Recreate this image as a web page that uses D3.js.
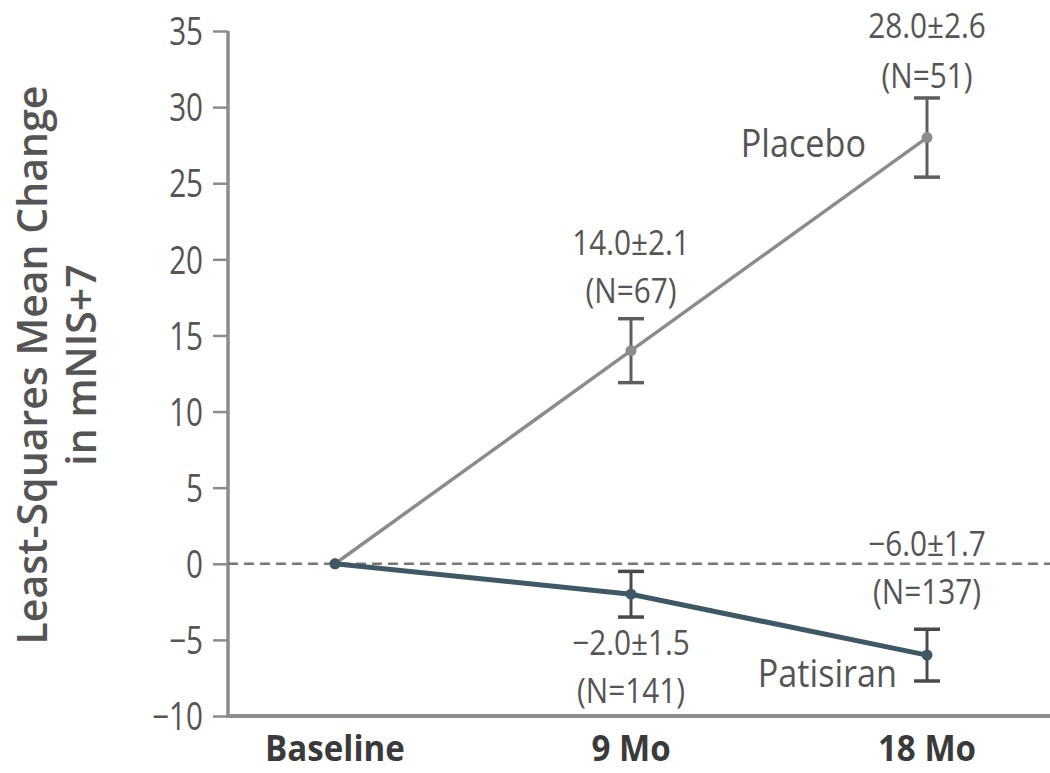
<!DOCTYPE html>
<html>
<head>
<meta charset="utf-8">
<script src="https://cdn.jsdelivr.net/npm/d3@7"></script>
<style>
  html, body { margin: 0; padding: 0; background: #fff; }
  svg { display: block; }
  text { font-family: "Open Sans", "DejaVu Sans", sans-serif; }
</style>
</head>
<body>
<svg id="chart" width="1050" height="773"></svg>
<script>
// ---------- data ----------
const categories = ["Baseline", "9 Mo", "18 Mo"];
const placeboMean = [0, 14.0, 28.0];
const placeboErr = [null, 2.1, 2.6];
const placeboN = [null, 67, 51];
const patisiranMean = [0, -2.0, -6.0];
const patisiranErr = [null, 1.5, 1.7];
const patisiranN = [null, 141, 137];
const yTicks = [-10, -5, 0, 5, 10, 15, 20, 25, 30, 35];
const yTitleLines = ["Least-Squares Mean Change", "in mNIS+7"];
const seriesNames = ["Placebo", "Patisiran"];

// ---------- layout / style ----------
const W = 1050, H = 773;
const axisX = 228;
const svg = d3.select("#chart");

const y = d3.scaleLinear().domain([-10, 35]).range([716, 31]);
const x = d3.scalePoint().domain(categories).range([335, 927]);

const gray = "#8c8c8c";
const dark = "#3e5866";
const textGray = "#555";
const numScale = 0.78, wordScale = 0.9;
const annSize = 35, annScale = 0.85;

function addText(g, px, py, txt, size, sx, anchor, fill, weight) {
  return g.append("text")
    .attr("transform", `translate(${px},${py}) scale(${sx},1)`)
    .attr("text-anchor", anchor).attr("fill", fill)
    .style("font-size", size + "px").style("font-weight", weight || 400)
    .text(txt);
}

// y axis
const tickLen = 15, tickPad = 10;
const yAxis = d3.axisLeft(y).tickValues(yTicks).tickSize(tickLen).tickPadding(tickPad)
  .tickFormat(d => d < 0 ? "\u2212" + Math.abs(d) : d);
const gy = svg.append("g").attr("transform", `translate(${axisX},0)`).call(yAxis);
gy.select(".domain").attr("stroke", gray).attr("stroke-width", 3.5)
  .attr("d", `M0,${y(35)}V${y(-10)}`);
gy.selectAll(".tick line").attr("stroke", gray).attr("stroke-width", 2.5);
gy.selectAll(".tick text").attr("fill", textGray).style("font-size", "38px")
  .attr("x", -(tickLen + tickPad) / numScale).attr("dy", "0.36em")
  .attr("transform", `scale(${numScale},1)`);

// x axis line
svg.append("line").attr("x1", axisX - 2).attr("x2", W).attr("y1", y(-10)).attr("y2", y(-10))
  .attr("stroke", gray).attr("stroke-width", 4);

// x labels
const gx = svg.append("g");
categories.forEach(c => addText(gx, x(c), 761, c, 36, 0.92, "middle", "#3a3a3a", 700));

// zero dashed line
svg.append("line").attr("x1", axisX).attr("x2", W).attr("y1", y(0)).attr("y2", y(0))
  .attr("stroke", "#777").attr("stroke-width", 2.5).attr("stroke-dasharray", "10,6");

// y title
const yt = svg.append("text").attr("transform", `translate(0,365) rotate(-90)`)
  .attr("text-anchor", "middle").attr("fill", textGray)
  .style("font-size", "41px").style("font-weight", "600");
yt.append("tspan").attr("x", 0).attr("y", 47).text(yTitleLines[0]);
yt.append("tspan").attr("x", 0).attr("y", 96).text(yTitleLines[1]);

// series
const series = [
  { name: seriesNames[0], mean: placeboMean, err: placeboErr, n: placeboN, color: gray, barColor: "#5e5e5e", lw: 3.5 },
  { name: seriesNames[1], mean: patisiranMean, err: patisiranErr, n: patisiranN, color: dark, barColor: "#4a4a4a", lw: 5 }
];

const line = d3.line().x((d, i) => x(categories[i])).y(d => y(d));

series.forEach(s => {
  const g = svg.append("g");
  g.append("path").datum(s.mean).attr("d", line).attr("fill", "none")
    .attr("stroke", s.color).attr("stroke-width", s.lw);
  const eb = s.mean.map((m, i) => ({ m, e: s.err[i], c: categories[i] })).filter(d => d.e != null);
  eb.forEach(d => {
    const cx = x(d.c);
    g.append("line").attr("x1", cx).attr("x2", cx).attr("y1", y(d.m + d.e)).attr("y2", y(d.m - d.e))
      .attr("stroke", s.barColor).attr("stroke-width", 3);
    [d.m + d.e, d.m - d.e].forEach(v => {
      g.append("line").attr("x1", cx - 13).attr("x2", cx + 13).attr("y1", y(v)).attr("y2", y(v))
        .attr("stroke", s.barColor).attr("stroke-width", 3.5);
    });
  });
  g.selectAll("circle").data(s.mean).join("circle")
    .attr("cx", (d, i) => x(categories[i])).attr("cy", d => y(d)).attr("r", 5.5)
    .attr("fill", s.color);
});

// value annotations (layout offsets: baseline of line nearer the bar, in px from bar end)
const fmt = v => (v < 0 ? "\u2212" : "") + Math.abs(v).toFixed(1);
const annLayout = [
  { s: 0, i: 1, side: "top", off: -16, gap: 48 },
  { s: 0, i: 2, side: "top", off: -10, gap: 50 },
  { s: 1, i: 1, side: "bottom", off: 38, gap: 48 },
  { s: 1, i: 2, side: "top", off: -25, gap: 48 }
];
const ga = svg.append("g");
annLayout.forEach(a => {
  const s = series[a.s];
  const m = s.mean[a.i], e = s.err[a.i];
  const cx = x(categories[a.i]);
  const l1 = `${fmt(m)}\u00b1${e.toFixed(1)}`;
  const l2 = `(N=${s.n[a.i]})`;
  let b1, b2;
  if (a.side === "top") { b2 = y(m + e) + a.off; b1 = b2 - a.gap; }
  else { b1 = y(m - e) + a.off; b2 = b1 + a.gap; }
  addText(ga, cx, b1, l1, annSize, annScale, "middle", textGray);
  addText(ga, cx, b2, l2, annSize, annScale, "middle", textGray);
});

// series name labels
const nameLayout = [
  { s: 0, i: 2, dx: -61, dy: 19 },
  { s: 1, i: 2, dx: -30, dy: 32 }
];
nameLayout.forEach(a => {
  const s = series[a.s];
  addText(ga, x(categories[a.i]) + a.dx, y(s.mean[a.i]) + a.dy, s.name, 38, wordScale, "end", textGray);
});
</script>
</body>
</html>
